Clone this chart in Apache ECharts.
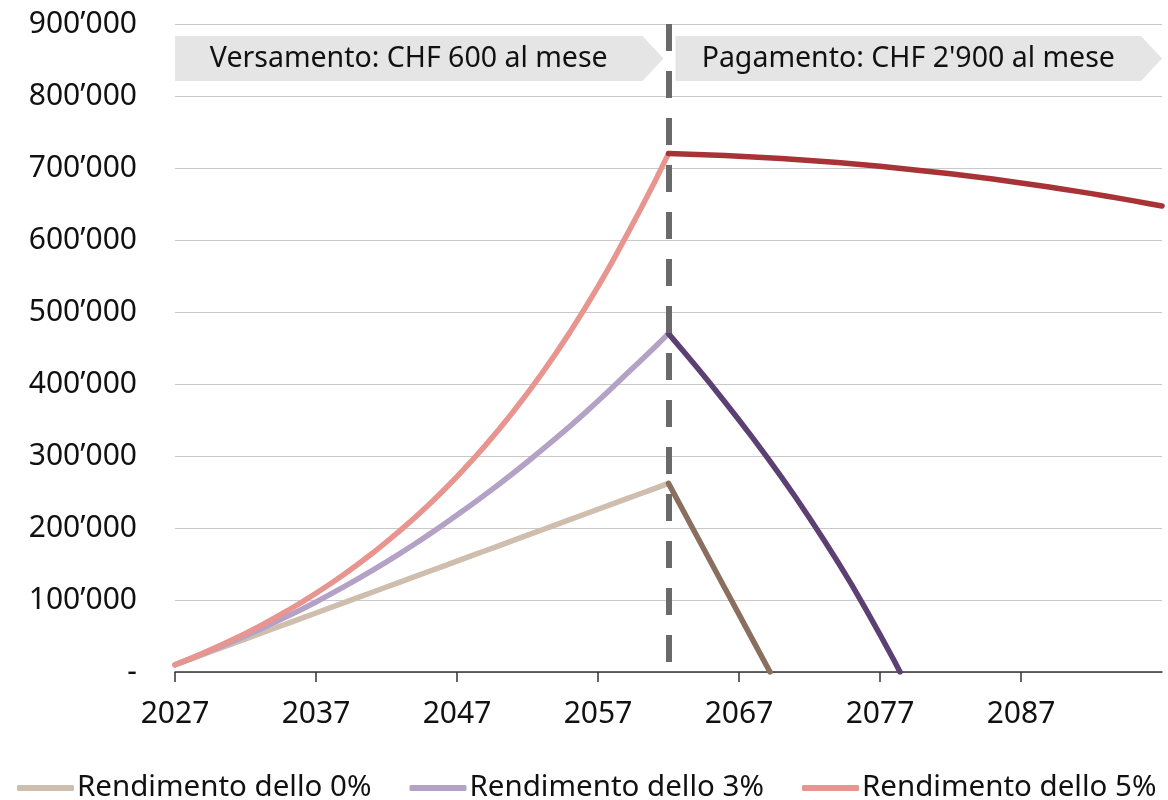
<!DOCTYPE html>
<html>
<head>
<meta charset="utf-8">
<title>Rendimento del risparmio</title>
<script src="https://cdn.jsdelivr.net/npm/echarts@6/dist/echarts.min.js"></script>
<style>
  html, body { margin: 0; padding: 0; background: #ffffff; }
  #chart { width: 1168px; height: 800px; }
</style>
</head>
<body>
<div id="chart"></div>
<script>
// ---- Data ---------------------------------------------------------------
const BASE_YEAR = 2027;
const END_YEAR = 2097;
const SWITCH_YEAR = 2062;

// Saving phase (CHF 600 per month)
const saveYears = [2027, 2028, 2029, 2030, 2031, 2032, 2033, 2034, 2035, 2036,
  2037, 2038, 2039, 2040, 2041, 2042, 2043, 2044, 2045, 2046,
  2047, 2048, 2049, 2050, 2051, 2052, 2053, 2054, 2055, 2056,
  2057, 2058, 2059, 2060, 2061, 2062];
const save0 = [10000, 17200, 24400, 31600, 38800, 46000, 53200, 60400, 67600, 74800,
  82000, 89200, 96400, 103600, 110800, 118000, 125200, 132400, 139600, 146800,
  154000, 161200, 168400, 175600, 182800, 190000, 197200, 204400, 211600, 218800,
  226000, 233200, 240400, 247600, 254800, 262000];
const save3 = [10000, 17600, 25400, 33500, 41800, 50400, 59200, 68300, 77600, 87200,
  97300, 107800, 118600, 129700, 141200, 153000, 165200, 177800, 190800, 204200,
  218000, 232000, 246400, 261200, 276400, 292000, 308000, 324400, 341200, 358500,
  376300, 394700, 413500, 431800, 450700, 470000];
const save5 = [10000, 17900, 26200, 34900, 44000, 53600, 63700, 74300, 85400, 97100,
  109400, 122300, 135800, 150000, 164900, 180600, 197000, 214300, 232400, 251400,
  271400, 292400, 314400, 337500, 361800, 387300, 414100, 442200, 471700, 502700,
  535200, 569400, 605300, 642000, 680000, 720000];

// Payout phase (CHF 2'900 per month)
const pay0Years = [2062, 2063, 2064, 2065, 2066, 2067, 2068, 2069, 2069.2];
const pay0 = [262000, 225600, 189200, 152800, 116400, 80000, 43600, 7200, 0];

const pay3Years = [2062, 2063, 2064, 2065, 2066, 2067, 2068, 2069, 2070, 2071,
  2072, 2073, 2074, 2075, 2076, 2077, 2078, 2078.42];
const pay3 = [470000, 447000, 423500, 399500, 375000, 350000, 324500, 298000, 271000, 243000,
  214000, 184000, 153000, 121000, 87000, 52000, 16000, 0];

const pay5Years = [2062, 2063, 2064, 2065, 2066, 2067, 2068, 2069, 2070, 2071,
  2072, 2073, 2074, 2075, 2076, 2077, 2078, 2079, 2080, 2081,
  2082, 2083, 2084, 2085, 2086, 2087, 2088, 2089, 2090, 2091,
  2092, 2093, 2094, 2095, 2096, 2097];
const pay5 = [720000, 719500, 718800, 718100, 717300, 716400, 715400, 714300, 713100, 711800,
  710500, 709000, 707500, 705800, 704100, 702300, 700400, 698400, 696300, 694200,
  691900, 689600, 687100, 684600, 682000, 679300, 676500, 673600, 670600, 667500,
  664400, 661100, 657800, 654300, 650800, 647200];

const seriesNames = ['Rendimento dello 0%', 'Rendimento dello 3%', 'Rendimento dello 5%'];
const phaseLabels = ['Versamento: CHF 600 al mese', "Pagamento: CHF 2'900 al mese"];

// ---- Styling -----------------------------------------------------------
const FONT = '"Noto Sans", "Open Sans", sans-serif';
const lightColors = ['#cfbead', '#b3a2c6', '#e8958f'];
const darkColors = ['#8a6f5f', '#5c3f73', '#a83337'];
const LINE_W = 5.5;

// the x axis runs on years since BASE_YEAR so ticks fall on 2027, 2037, ...
const pts = (xs, ys) => xs.map((x, i) => [x - BASE_YEAR, ys[i]]);

function fmtThousands(v) {
  if (v === 0) return '-';
  const s = String(Math.round(v));
  return s.replace(/\B(?=(\d{3})+(?!\d))/g, '\u2019');
}

function lineSeries(name, data, color, z) {
  return {
    name: name,
    type: 'line',
    data: data,
    showSymbol: false,
    symbol: 'none',
    smooth: false,
    z: z,
    lineStyle: { color: color, width: LINE_W, cap: 'round', join: 'round' },
    itemStyle: { color: color },
    emphasis: { disabled: true },
    animation: false
  };
}

const chart = echarts.init(document.getElementById('chart'), null, { renderer: 'canvas' });

const option = {
  animation: false,
  backgroundColor: '#ffffff',
  textStyle: { fontFamily: FONT },
  grid: { left: 175, right: 6, top: 24, bottom: 128 },
  xAxis: {
    type: 'value',
    min: 0,
    max: END_YEAR - BASE_YEAR,
    interval: 10,
    axisLine: { show: true, lineStyle: { color: '#333333', width: 1.5 } },
    axisTick: { show: true, length: 10, lineStyle: { color: '#333333', width: 1.5 } },
    splitLine: { show: false },
    axisLabel: {
      color: '#111111',
      fontFamily: FONT,
      fontSize: 30,
      margin: 27,
      showMaxLabel: false,
      formatter: v => String(BASE_YEAR + v)
    }
  },
  yAxis: {
    type: 'value',
    min: 0,
    max: 900000,
    interval: 100000,
    axisLine: { show: false },
    axisTick: { show: false },
    splitLine: { show: true, lineStyle: { color: '#c9c9c9', width: 1.2 } },
    axisLabel: {
      color: '#111111',
      fontFamily: FONT,
      fontSize: 30,
      margin: 38,
      formatter: fmtThousands
    }
  },
  legend: {
    data: seriesNames,
    left: 12,
    top: 768,
    itemWidth: 57,
    itemHeight: 6,
    itemGap: 38,
    icon: 'roundRect',
    textStyle: { color: '#111111', fontFamily: FONT, fontSize: 29.5, padding: [0, 0, 0, -2] },
    selectedMode: false
  },
  series: [
    lineSeries(seriesNames[0], pts(saveYears, save0), lightColors[0], 2),
    lineSeries(seriesNames[1], pts(saveYears, save3), lightColors[1], 3),
    lineSeries(seriesNames[2], pts(saveYears, save5), lightColors[2], 4),
    lineSeries('Prelievo 0%', pts(pay0Years, pay0), darkColors[0], 5),
    lineSeries('Prelievo 3%', pts(pay3Years, pay3), darkColors[1], 6),
    Object.assign(lineSeries('Prelievo 5%', pts(pay5Years, pay5), darkColors[2], 7), {
      markLine: {
        silent: true,
        symbol: 'none',
        label: { show: false },
        z: 10,
        lineStyle: { color: '#6a6a6a', width: 6, type: [27, 20], cap: 'butt' },
        data: [[
          { coord: [SWITCH_YEAR - BASE_YEAR, 900000] },
          { coord: [SWITCH_YEAR - BASE_YEAR, 0] }
        ]]
      }
    })
  ]
};

chart.setOption(option);

// Phase banners (arrow-shaped labels across the top of the plot)
function drawBanners() {
  const xStart = chart.convertToPixel({ xAxisIndex: 0 }, 0);
  const xSwitch = chart.convertToPixel({ xAxisIndex: 0 }, SWITCH_YEAR - BASE_YEAR);
  const xEnd = chart.convertToPixel({ xAxisIndex: 0 }, END_YEAR - BASE_YEAR);
  const top = 36, h = 45, tip = 21;
  const mid = top + h / 2;

  const leftTipX = xSwitch - 5;
  const rightStartX = xSwitch + 7;

  const banner = (x0, x1, text) => ([
    {
      type: 'polygon',
      shape: { points: [[x0, top], [x1 - tip, top], [x1, mid], [x1 - tip, top + h], [x0, top + h]] },
      style: { fill: '#e5e5e5' },
      z: 1
    },
    {
      type: 'text',
      x: (x0 + x1 - tip) / 2,
      y: mid,
      style: {
        text: text,
        fill: '#111111',
        font: '28.5px ' + FONT,
        align: 'center',
        verticalAlign: 'middle'
      },
      z: 2
    }
  ]);

  chart.setOption({
    graphic: [
      ...banner(xStart, leftTipX, phaseLabels[0]),
      ...banner(rightStartX, xEnd, phaseLabels[1])
    ]
  });
}
drawBanners();
</script>
</body>
</html>
